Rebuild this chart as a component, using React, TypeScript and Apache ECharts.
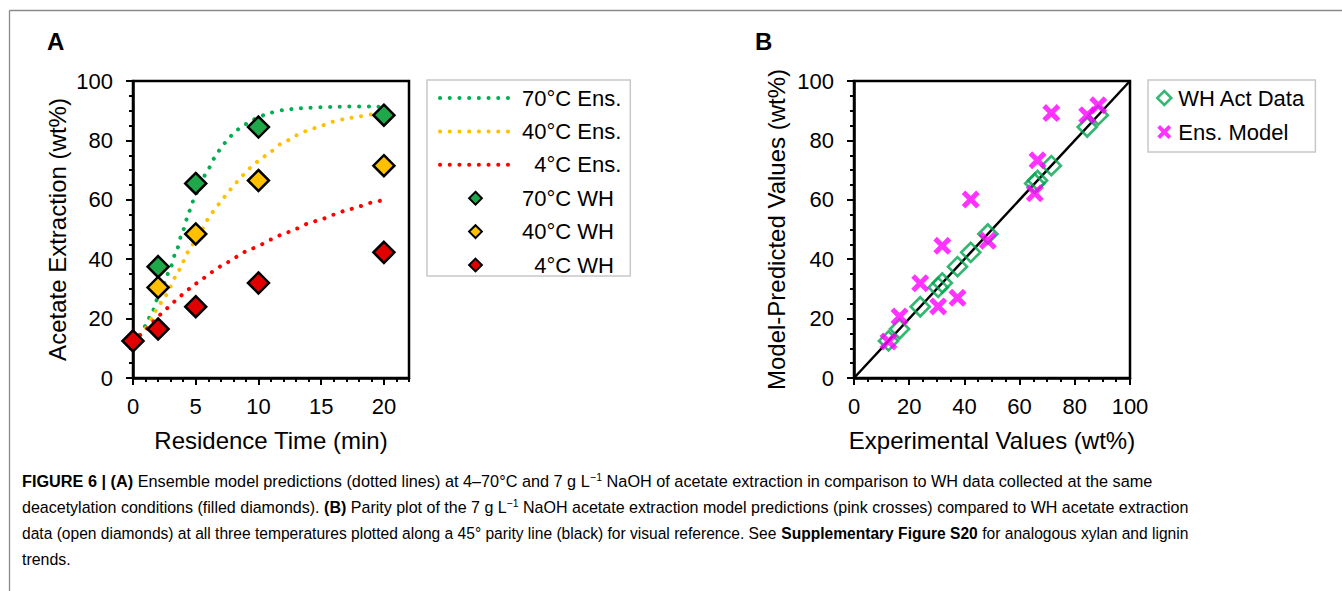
import React, { useEffect, useRef } from 'react';
import * as echarts from 'echarts';

const FONT = '"Liberation Sans", Arial, Helvetica, sans-serif';

// ---------- Panel A: WH measured data (filled diamonds) ----------
const whTime70 = [2, 5, 10, 20];
const wh70 = [37.5, 65.5, 84.5, 88.5];
const whTime40 = [2, 5, 10, 20];
const wh40 = [30.5, 48.5, 66.5, 71.5];
const whTime4 = [0, 2, 5, 10, 20];
const wh4 = [12.5, 16.5, 24, 32, 42.3];

// ---------- Panel A: ensemble model curves (dotted) ----------
const ensTime = [0, 0.5, 1, 1.5, 2, 2.5, 3, 3.5, 4, 4.5, 5, 5.5, 6, 6.5, 7, 7.5, 8, 8.5, 9, 9.5, 10, 11, 12, 13, 14, 15, 16, 17, 18, 19, 20];
const ens70 = [12.3, 14.5, 17.5, 22, 27, 32, 37.5, 43.5, 50, 56.3, 62, 66.7, 70.5, 74, 77.2, 80, 82.2, 84, 85.5, 86.8, 88, 89.4, 90.2, 90.7, 91, 91.2, 91.3, 91.4, 91.4, 91.4, 91.3];
const ens40 = [12.3, 14.3, 16.8, 20, 24, 27.2, 30.8, 35, 39.3, 43.2, 46.5, 50.2, 53.5, 56.5, 59.3, 62, 64.6, 67, 69.3, 71.3, 73, 76.4, 79.3, 81.7, 83.4, 85, 86.3, 87.3, 88.1, 88.7, 89.1];
const ens4 = [12.3, 14.3, 16.3, 18.7, 20.8, 22.7, 24.6, 26.4, 28.2, 30, 31.8, 33.3, 34.8, 36.2, 37.6, 38.9, 40.2, 41.4, 42.6, 43.6, 44.6, 46.6, 48.5, 50.3, 52, 53.5, 55, 56.4, 57.8, 59, 60.1];

// ---------- Panel B: model predictions at the WH data points ----------
const ens70AtWH = [27, 62.2, 88.5, 91.8];
const ens40AtWH = [24.1, 46.2, 73.3, 89.2];
const ens4AtWH = [12.3, 20.7, 31.9, 44.5, 60.1];

// ---------- Axis ticks ----------
const xTicksA = [0, 5, 10, 15, 20];

const COLORS = {
  g: '#00b050',
  o: '#ffc000',
  r: '#ff0000',
  gFill: '#1fa84a',
  oFill: '#ffc000',
  rFill: '#e00000',
  bGreen: '#00a54f',
  magenta: '#ff00ff',
};

const CROSS = 'path://M0,20L20,0L50,30L80,0L100,20L70,50L100,80L80,100L50,70L20,100L0,80L30,50Z';

const zip = (a: number[], b: number[]) => a.map((v, i) => [v, b[i]]);

type Seg = { t: string; s: 'n' | 'b' | 'sup' };
const captionLines: Seg[][] = [
  [
    { t: 'FIGURE 6 | (A)', s: 'b' },
    { t: ' Ensemble model predictions (dotted lines) at 4–70°C and 7 g L', s: 'n' },
    { t: '−1', s: 'sup' },
    { t: ' NaOH of acetate extraction in comparison to WH data collected at the same', s: 'n' },
  ],
  [
    { t: 'deacetylation conditions (filled diamonds). ', s: 'n' },
    { t: '(B)', s: 'b' },
    { t: ' Parity plot of the 7 g L', s: 'n' },
    { t: '−1', s: 'sup' },
    { t: ' NaOH acetate extraction model predictions (pink crosses) compared to WH acetate extraction', s: 'n' },
  ],
  [
    { t: 'data (open diamonds) at all three temperatures plotted along a 45° parity line (black) for visual reference. See ', s: 'n' },
    { t: 'Supplementary Figure S20', s: 'b' },
    { t: ' for analogous xylan and lignin', s: 'n' },
  ],
  [{ t: 'trends.', s: 'n' }],
];
const captionTargets = [1131, 1166, 1166, 0];
const captionY = [481.5, 507, 533, 559];

export default function App() {
  const ref = useRef<HTMLDivElement>(null);

  useEffect(() => {
    if (!ref.current) return;
    const chart = echarts.init(ref.current, undefined, { renderer: 'svg' });

    // measure caption lines for horizontal compression (condensed journal font)
    const cv = document.createElement('canvas');
    const ctx = cv.getContext('2d')!;
    const fontFor = (s: string) =>
      s === 'b' ? `bold 17px ${FONT}` : s === 'sup' ? `11px ${FONT}` : `17px ${FONT}`;
    const scales = captionLines.map((segs, i) => {
      let w = 0;
      segs.forEach((sg) => {
        ctx.font = fontFor(sg.s);
        w += ctx.measureText(sg.t).width;
      });
      return captionTargets[i] ? captionTargets[i] / w : 0;
    });
    const avg = (scales[0] + scales[1] + scales[2]) / 3;
    const captionEls = captionLines.map((segs, i) => ({
      type: 'text',
      x: 22,
      y: captionY[i],
      scaleX: scales[i] || avg,
      style: {
        text: segs.map((sg) => `{${sg.s}|${sg.t}}`).join(''),
        align: 'left',
        verticalAlign: 'middle',
        rich: {
          n: { fontSize: 17, fontFamily: FONT, color: '#333', lineHeight: 20 },
          b: { fontSize: 17, fontFamily: FONT, fontWeight: 'bold', color: '#111', lineHeight: 20 },
          sup: { fontSize: 11, fontFamily: FONT, color: '#333', verticalAlign: 'top', lineHeight: 10 },
        },
      },
    }));

    const axisLine = { show: true, lineStyle: { color: '#000', width: 2.5 } };
    const tickStyle = { color: '#000', width: 2 };
    const labelStyle = { fontSize: 22, color: '#000', fontFamily: FONT };
    const nameStyle = { fontSize: 24, color: '#000', fontFamily: FONT };

    const ensLine = (name: string, data: number[], color: string) => ({
      name,
      type: 'line',
      xAxisIndex: 0,
      yAxisIndex: 0,
      data: zip(ensTime, data),
      symbol: 'none',
      smooth: 0.3,
      smoothMonotone: 'x',
      color,
      lineStyle: { color, width: 4, type: [0.1, 9.6], cap: 'round' },
      z: 2,
    });
    const whSeries = (name: string, t: number[], v: number[], fill: string) => ({
      name,
      type: 'line',
      xAxisIndex: 0,
      yAxisIndex: 0,
      data: zip(t, v),
      symbol: 'diamond',
      symbolSize: 21,
      showSymbol: true,
      color: fill,
      lineStyle: { width: 0, opacity: 0 },
      itemStyle: { color: fill, borderColor: '#000', borderWidth: 2.5 },
      z: 4,
    });

    const whAll = [...wh4, ...wh40, ...wh70];
    const ensAll = [...ens4AtWH, ...ens40AtWH, ...ens70AtWH];

    chart.setOption({
      animation: false,
      backgroundColor: '#fff',
      textStyle: { fontFamily: FONT },
      grid: [
        { left: 133, top: 81, width: 276, height: 297, show: true, borderColor: '#000', borderWidth: 2.5, backgroundColor: 'transparent' },
        { left: 854, top: 81, width: 276, height: 297, show: true, borderColor: '#000', borderWidth: 2.5, backgroundColor: 'transparent' },
      ],
      xAxis: [
        {
          gridIndex: 0, type: 'value', min: 0, max: 22, interval: 1, position: 'bottom',
          axisLine, axisTick: { show: true, length: 4, lineStyle: tickStyle },
          axisLabel: { show: false }, splitLine: { show: false },
          name: 'Residence Time (min)', nameLocation: 'middle', nameGap: 50, nameTextStyle: nameStyle,
        },
        {
          gridIndex: 0, type: 'value', min: 0, max: 22, interval: 5, position: 'bottom',
          axisLine: { show: false },
          axisTick: { show: true, length: 7, lineStyle: tickStyle, customValues: xTicksA },
          axisLabel: { ...labelStyle, margin: 17, customValues: xTicksA, formatter: (v: number) => (v % 5 === 0 ? String(v) : '') },
          splitLine: { show: false },
        },
        {
          gridIndex: 1, type: 'value', min: 0, max: 100, interval: 20, position: 'bottom',
          axisLine, axisTick: { show: true, length: 7, lineStyle: tickStyle },
          minorTick: { show: true, splitNumber: 4, length: 4, lineStyle: tickStyle },
          axisLabel: { ...labelStyle, margin: 17 }, splitLine: { show: false },
          name: 'Experimental Values (wt%)', nameLocation: 'middle', nameGap: 50, nameTextStyle: nameStyle,
        },
      ],
      yAxis: [
        {
          gridIndex: 0, type: 'value', min: 0, max: 100, interval: 20,
          axisLine, axisTick: { show: true, length: 7, lineStyle: tickStyle },
          minorTick: { show: true, splitNumber: 4, length: 4, lineStyle: tickStyle },
          axisLabel: { ...labelStyle, margin: 20 }, splitLine: { show: false },
          name: 'Acetate Extraction (wt%)', nameLocation: 'middle', nameGap: 64, nameTextStyle: nameStyle,
        },
        {
          gridIndex: 1, type: 'value', min: 0, max: 100, interval: 20,
          axisLine, axisTick: { show: true, length: 7, lineStyle: tickStyle },
          minorTick: { show: true, splitNumber: 4, length: 4, lineStyle: tickStyle },
          axisLabel: { ...labelStyle, margin: 20 }, splitLine: { show: false },
          name: 'Model-Predicted Values (wt%)', nameLocation: 'middle', nameGap: 66, nameTextStyle: nameStyle,
        },
      ],
      legend: [
        {
          orient: 'vertical', left: 427, top: 80, padding: [7, 9, 0, 11],
          itemWidth: 71, itemHeight: 16, itemGap: 11.4,
          borderColor: '#c8c8c8', borderWidth: 1.5, selectedMode: false,
          textStyle: { fontSize: 22, color: '#000', fontFamily: FONT, padding: [0, 0, 0, 6] },
          lineStyle: { width: 4 },
          itemStyle: { borderWidth: 2 },
          formatter: (name: string) => (name.startsWith('4°') ? '\u2007' + name : name),
          data: [
            { name: '70°C Ens.', itemStyle: { opacity: 0 } },
            { name: '40°C Ens.', itemStyle: { opacity: 0 } },
            { name: '4°C Ens.', itemStyle: { opacity: 0 } },
            { name: '70°C WH', lineStyle: { opacity: 0, width: 0 } },
            { name: '40°C WH', lineStyle: { opacity: 0, width: 0 } },
            { name: '4°C WH', lineStyle: { opacity: 0, width: 0 } },
          ],
        },
        {
          orient: 'vertical', left: 1148, top: 80, padding: [7, 10, 9, 8],
          itemWidth: 14, itemHeight: 14, itemGap: 12,
          borderColor: '#c8c8c8', borderWidth: 1.5, selectedMode: false,
          textStyle: { fontSize: 22, color: '#000', fontFamily: FONT, padding: [0, 0, 0, 2] },
          itemStyle: { borderWidth: 2.5 },
          data: ['WH Act Data', 'Ens. Model'],
        },
      ],
      series: [
        ensLine('70°C Ens.', ens70, COLORS.g),
        ensLine('40°C Ens.', ens40, COLORS.o),
        ensLine('4°C Ens.', ens4, COLORS.r),
        whSeries('70°C WH', whTime70, wh70, COLORS.gFill),
        whSeries('40°C WH', whTime40, wh40, COLORS.oFill),
        whSeries('4°C WH', whTime4, wh4, COLORS.rFill),
        {
          name: 'parity', type: 'line', xAxisIndex: 2, yAxisIndex: 1,
          data: [[0, 0], [100, 100]], symbol: 'none', silent: true,
          lineStyle: { color: '#000', width: 2.5 }, z: 1,
        },
        {
          name: 'WH Act Data', type: 'scatter', xAxisIndex: 2, yAxisIndex: 1,
          data: zip(whAll, whAll), symbol: 'diamond', symbolSize: 19,
          color: COLORS.bGreen,
          itemStyle: { color: 'rgba(255,255,255,0)', borderColor: COLORS.bGreen, borderWidth: 2.7 },
          z: 3,
        },
        {
          name: 'Ens. Model', type: 'scatter', xAxisIndex: 2, yAxisIndex: 1,
          data: zip(whAll, ensAll), symbol: CROSS, symbolSize: 18,
          color: COLORS.magenta,
          itemStyle: { color: COLORS.magenta },
          z: 4,
        },
      ],
      graphic: [
        { type: 'line', shape: { x1: 9.5, y1: 10.5, x2: 1342, y2: 10.5 }, style: { stroke: '#8a8a8a', lineWidth: 1.3 }, silent: true },
        { type: 'line', shape: { x1: 9.5, y1: 10.5, x2: 9.5, y2: 591 }, style: { stroke: '#8a8a8a', lineWidth: 1.3 }, silent: true },
        { type: 'text', x: 47, y: 41, style: { text: 'A', font: `bold 24px ${FONT}`, fill: '#000', verticalAlign: 'middle' } },
        { type: 'text', x: 755, y: 41, style: { text: 'B', font: `bold 24px ${FONT}`, fill: '#000', verticalAlign: 'middle' } },
        ...captionEls,
      ],
    });

    return () => chart.dispose();
  }, []);

  return <div ref={ref} style={{ position: 'absolute', left: 0, top: 0, width: 1342, height: 591 }} />;
}
